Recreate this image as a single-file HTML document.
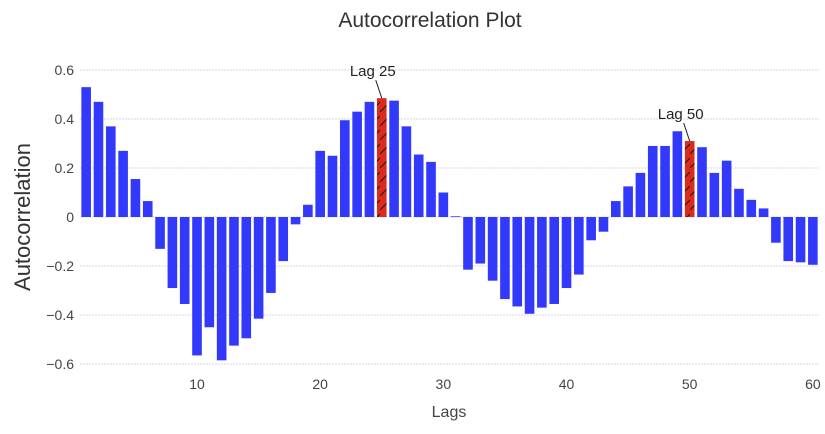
<!DOCTYPE html>
<html><head><meta charset="utf-8"><style>
body{margin:0;background:#fff;}
text{font-family:"Liberation Sans",sans-serif;}
</style></head><body>
<svg id="chart" width="825" height="429" xmlns="http://www.w3.org/2000/svg">
<defs><pattern id="hatch" width="10" height="14" patternUnits="userSpaceOnUse"><path d="M0,14 L10,4" stroke="#222" stroke-width="1.2"/></pattern></defs>
<text x="430" y="27" text-anchor="middle" font-size="21" fill="#333">Autocorrelation Plot</text>
<text transform="translate(30,217) rotate(-90)" text-anchor="middle" font-size="22" fill="#333">Autocorrelation</text>
<text x="449" y="417" text-anchor="middle" font-size="16" fill="#444">Lags</text>
<g id="grid"></g><g id="bars"></g><g id="ann"></g>
</svg>
<script>
const values=[0.53,0.47,0.37,0.27,0.155,0.065,-0.13,-0.29,-0.355,-0.565,-0.45,-0.585,-0.525,-0.495,-0.415,-0.31,-0.18,-0.03,0.05,0.27,0.25,0.395,0.43,0.47,0.485,0.475,0.37,0.255,0.225,0.10,0.003,-0.215,-0.19,-0.26,-0.335,-0.365,-0.395,-0.37,-0.355,-0.29,-0.235,-0.095,-0.06,0.065,0.125,0.18,0.29,0.29,0.35,0.31,0.285,0.18,0.23,0.115,0.07,0.035,-0.105,-0.18,-0.185,-0.195];
const highlights=[25,50];
const yTicks=[-0.6,-0.4,-0.2,0,0.2,0.4,0.6];
const xTicks=[10,20,30,40,50,60];
const NS="http://www.w3.org/2000/svg";
const X=l=>80+(l-0.5)*12.317;
const Y=v=>217-v*245;
function mk(t,a,p){const e=document.createElementNS(NS,t);for(const k in a)e.setAttribute(k,a[k]);p.appendChild(e);return e;}
const g=document.getElementById('grid'),b=document.getElementById('bars'),an=document.getElementById('ann');
yTicks.forEach(v=>{
 const l=mk('line',{x1:80,x2:819,y1:Y(v),y2:Y(v),stroke:'#d6d6ee','stroke-width':1,'stroke-dasharray':'2,1'},g);
 
 
 const t=mk('text',{x:74,y:Y(v)+5,'text-anchor':'end','font-size':14,fill:'#444'},g);
 t.textContent=v===0?'0':(v<0?'\u22120'+(-v).toFixed(1).slice(1):v.toFixed(1));
 
 
});
xTicks.forEach(v=>{
 const t=mk('text',{x:X(v),y:389,'text-anchor':'middle','font-size':14,fill:'#444'},g);
 t.textContent=v;
 
 
});
const w=12.317*0.78;
values.forEach((v,i)=>{
 const lag=i+1,h=highlights.includes(lag);
 const y0=Math.min(Y(v),Y(0)),hh=Math.max(Math.abs(Y(v)-Y(0)),0.8);
 const r=mk('rect',{x:X(lag)-w/2,y:y0,width:w,height:hh,fill:h?'#dd2a1b':'#3339fb'},b);
 
 
 if(h){
  const p=mk('rect',{x:X(lag)-w/2,y:y0,width:w,height:hh,fill:'url(#hatch)'},b);
  
  
  const ln=mk('line',{x1:X(lag),y1:Y(v),x2:X(lag)-6,y2:Y(v)-18,stroke:'#222','stroke-width':1},an);
  
  
  const t=mk('text',{x:X(lag)-9,y:Y(v)-22,'text-anchor':'middle','font-size':15,fill:'#222'},an);
  t.textContent='Lag '+lag;
  
  
 }
});
</script>
</body></html>
